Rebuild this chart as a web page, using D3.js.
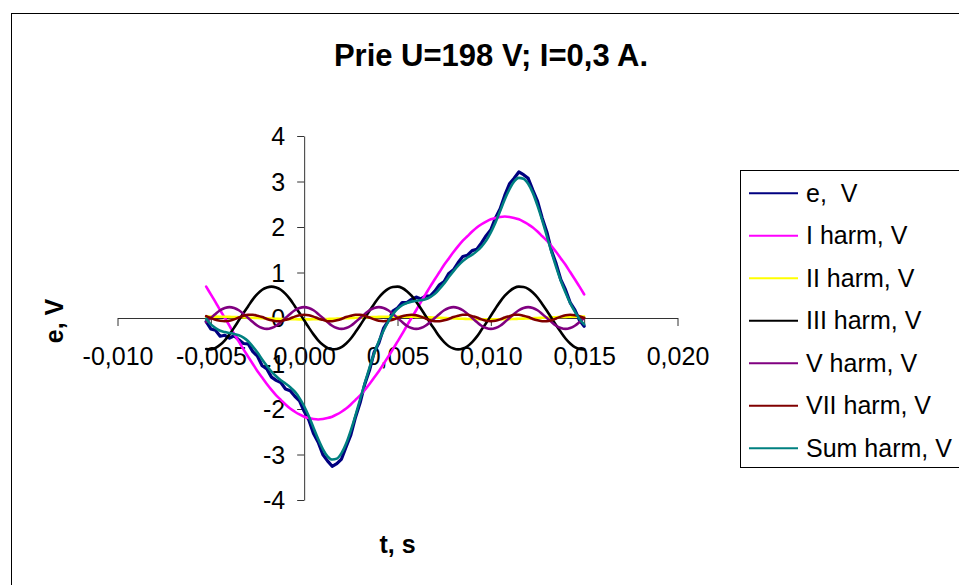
<!DOCTYPE html>
<html>
<head>
<meta charset="utf-8">
<script src="https://cdn.jsdelivr.net/npm/d3@7/dist/d3.min.js"></script>
<style>
  html, body { margin: 0; padding: 0; background: #fff; }
  svg { display: block; font-family: "Liberation Sans", Arial, sans-serif; }
</style>
</head>
<body>
<svg id="chart" width="959" height="585"></svg>
<script>
// Sample times, s
const time = [
  -0.00525,-0.0050,-0.00475,-0.0045,-0.00425,-0.0040,-0.00375,-0.0035,-0.00325,-0.0030,
  -0.00275,-0.0025,-0.00225,-0.0020,-0.00175,-0.0015,-0.00125,-0.0010,-0.00075,-0.0005,
  -0.00025,0,0.00025,0.0005,0.00075,0.0010,0.00125,0.0015,0.00175,0.0020,
  0.00225,0.0025,0.00275,0.0030,0.00325,0.0035,0.00375,0.0040,0.00425,0.0045,
  0.00475,0.0050,0.00525,0.0055,0.00575,0.0060,0.00625,0.0065,0.00675,0.0070,
  0.00725,0.0075,0.00775,0.0080,0.00825,0.0085,0.00875,0.0090,0.00925,0.0095,
  0.00975,0.0100,0.01025,0.0105,0.01075,0.0110,0.01125,0.0115,0.01175,0.0120,
  0.01225,0.0125,0.01275,0.0130,0.01325,0.0135,0.01375,0.0140,0.01425,0.0145,
  0.01475,0.0150
];

// Measured e.m.f., V
const eMeasured = [
  -0.08,-0.24,-0.27,-0.40,-0.38,-0.44,-0.39,-0.48,-0.56,-0.57,
  -0.74,-0.84,-1.05,-1.12,-1.30,-1.37,-1.42,-1.56,-1.60,-1.72,
  -1.82,-2.05,-2.24,-2.54,-2.73,-3.00,-3.14,-3.26,-3.20,-3.10,
  -2.83,-2.57,-2.18,-1.86,-1.45,-1.15,-0.75,-0.55,-0.23,-0.07,
  0.15,0.22,0.34,0.34,0.41,0.46,0.42,0.48,0.48,0.59,
  0.73,0.80,0.98,1.06,1.22,1.35,1.38,1.48,1.51,1.65,
  1.81,1.94,2.20,2.40,2.70,2.95,3.07,3.21,3.15,3.07,
  2.81,2.57,2.20,1.89,1.48,1.19,0.84,0.62,0.34,0.18,
  -0.05,-0.18
];

// Harmonic components, V
const harm1 = [
  0.69,0.52,0.35,0.17,0.00,-0.17,-0.35,-0.52,-0.69,-0.85,
  -1.01,-1.17,-1.31,-1.45,-1.58,-1.70,-1.80,-1.90,-1.99,-2.06,
  -2.12,-2.17,-2.20,-2.22,-2.23,-2.22,-2.20,-2.17,-2.12,-2.06,
  -1.99,-1.90,-1.80,-1.70,-1.58,-1.45,-1.31,-1.17,-1.01,-0.85,
  -0.69,-0.52,-0.35,-0.17,0.00,0.17,0.35,0.52,0.69,0.85,
  1.01,1.17,1.31,1.45,1.58,1.70,1.80,1.90,1.99,2.06,
  2.12,2.17,2.20,2.22,2.23,2.22,2.20,2.17,2.12,2.06,
  1.99,1.90,1.80,1.70,1.58,1.45,1.31,1.17,1.01,0.85,
  0.69,0.52
];
const harm2 = [
  0.030,0.030,0.030,0.029,0.027,0.024,0.021,0.018,0.014,0.009,
  0.005,0.000,-0.005,-0.009,-0.014,-0.018,-0.021,-0.024,-0.027,-0.029,
  -0.030,-0.030,-0.030,-0.029,-0.027,-0.024,-0.021,-0.018,-0.014,-0.009,
  -0.005,0.000,0.005,0.009,0.014,0.018,0.021,0.024,0.027,0.029,
  0.030,0.030,0.030,0.029,0.027,0.024,0.021,0.018,0.014,0.009,
  0.005,0.000,-0.005,-0.009,-0.014,-0.018,-0.021,-0.024,-0.027,-0.029,
  -0.030,-0.030,-0.030,-0.029,-0.027,-0.024,-0.021,-0.018,-0.014,-0.009,
  -0.005,0.000,0.005,0.009,0.014,0.018,0.021,0.024,0.027,0.029,
  0.030,0.030
];
const harm3 = [
  -0.68,-0.69,-0.66,-0.59,-0.49,-0.36,-0.21,-0.05,0.11,0.26,
  0.41,0.53,0.62,0.67,0.69,0.67,0.62,0.53,0.41,0.26,
  0.11,-0.05,-0.21,-0.36,-0.49,-0.59,-0.66,-0.69,-0.68,-0.64,
  -0.56,-0.45,-0.31,-0.16,0.00,0.16,0.31,0.45,0.56,0.64,
  0.68,0.69,0.66,0.59,0.49,0.36,0.21,0.05,-0.11,-0.26,
  -0.41,-0.53,-0.62,-0.67,-0.69,-0.67,-0.62,-0.53,-0.41,-0.26,
  -0.11,0.05,0.21,0.36,0.49,0.59,0.66,0.69,0.68,0.64,
  0.56,0.45,0.31,0.16,0.00,-0.16,-0.31,-0.45,-0.56,-0.64,
  -0.68,-0.69
];
const harm5 = [
  -0.09,0.00,0.09,0.17,0.22,0.24,0.22,0.17,0.09,0.00,-0.09,-0.17,-0.22,-0.24,-0.22,-0.17,
  -0.09,0.00,0.09,0.17,0.22,0.24,0.22,0.17,0.09,0.00,-0.09,-0.17,-0.22,-0.24,-0.22,-0.17,
  -0.09,0.00,0.09,0.17,0.22,0.24,0.22,0.17,0.09,0.00,-0.09,-0.17,-0.22,-0.24,-0.22,-0.17,
  -0.09,0.00,0.09,0.17,0.22,0.24,0.22,0.17,0.09,0.00,-0.09,-0.17,-0.22,-0.24,-0.22,-0.17,
  -0.09,0.00,0.09,0.17,0.22,0.24,0.22,0.17,0.09,0.00,-0.09,-0.17,-0.22,-0.24,-0.22,-0.17,
  -0.09,0.00
];
const harm7 = [
  0.04,0.00,-0.04,-0.06,-0.07,-0.06,-0.03,0.01,0.05,0.07,
  0.07,0.05,0.02,-0.02,-0.05,-0.07,-0.07,-0.04,-0.01,0.03,
  0.06,0.07,0.06,0.03,-0.01,-0.04,-0.07,-0.07,-0.05,-0.02,
  0.02,0.05,0.07,0.07,0.05,0.01,-0.03,-0.06,-0.07,-0.06,
  -0.04,0.00,0.04,0.06,0.07,0.06,0.03,-0.01,-0.05,-0.07,
  -0.07,-0.05,-0.02,0.02,0.05,0.07,0.07,0.04,0.01,-0.03,
  -0.06,-0.07,-0.06,-0.03,0.01,0.04,0.07,0.07,0.05,0.02,
  -0.02,-0.05,-0.07,-0.07,-0.05,-0.01,0.03,0.06,0.07,0.06,
  0.04,0.00
];
// Sum of the harmonics, V
const harmSum = [
  -0.02,-0.14,-0.22,-0.28,-0.31,-0.33,-0.35,-0.38,-0.43,-0.51,
  -0.63,-0.76,-0.91,-1.05,-1.18,-1.28,-1.37,-1.44,-1.52,-1.62,
  -1.76,-1.94,-2.16,-2.41,-2.66,-2.88,-3.04,-3.11,-3.09,-2.97,
  -2.76,-2.47,-2.14,-1.78,-1.43,-1.09,-0.78,-0.51,-0.28,-0.08,
  0.08,0.20,0.28,0.33,0.36,0.38,0.39,0.41,0.46,0.53,
  0.64,0.76,0.90,1.03,1.15,1.25,1.33,1.39,1.47,1.57,
  1.70,1.88,2.10,2.35,2.61,2.83,3.00,3.08,3.06,2.95,
  2.75,2.47,2.15,1.80,1.45,1.12,0.82,0.56,0.33,0.14,
  -0.02,-0.14
];

const seriesNames = ["e,  V", "I harm, V", "II harm, V", "III harm, V", "V harm, V", "VII harm, V", "Sum harm, V"];
const seriesColors = ["#000080", "#FF00FF", "#FFFF00", "#000000", "#800080", "#800000", "#008080"];
const seriesValues = [eMeasured, harm1, harm2, harm3, harm5, harm7, harmSum];

const xTicks = [-0.010, -0.005, 0.000, 0.005, 0.010, 0.015, 0.020];
const xTickLabels = ["-0,010", "-0,005", "0,000", "0,005", "0,010", "0,015", "0,020"];
const yTicks = [-4, -3, -2, -1, 0, 1, 2, 3, 4];
const yTickLabels = ["-4", "-3", "-2", "-1", "0", "1", "2", "3", "4"];

const titleText = "Prie U=198 V; I=0,3 A.";
const xTitle = "t, s";
const yTitle = "e, V";

const svg = d3.select("#chart");

// chart frame
svg.append("rect")
  .attr("x", 11.5).attr("y", 13.5)
  .attr("width", 980).attr("height", 600)
  .attr("fill", "#fff").attr("stroke", "#000").attr("stroke-width", 1);

const x = d3.scaleLinear().domain([-0.010, 0.020]).range([117.5, 677.5]);
const y = d3.scaleLinear().domain([-4, 4]).range([500, 136]);

// axes crossing at the origin
const xAxis = d3.axisBottom(x)
  .tickValues(xTicks)
  .tickFormat((d, i) => xTickLabels[i])
  .tickSize(8).tickSizeOuter(0);
const gx = svg.append("g").attr("transform", `translate(0,${y(0)})`).call(xAxis);
gx.selectAll("text").attr("y", 47).attr("dy", null)
  .attr("font-size", 25).attr("font-family", "Liberation Sans, Arial, sans-serif").attr("fill", "#000");

const yAxis = d3.axisLeft(y)
  .tickValues(yTicks)
  .tickFormat((d, i) => yTickLabels[i])
  .tickSize(7).tickSizeOuter(0);
const gy = svg.append("g").attr("transform", `translate(${x(0)},0)`).call(yAxis);
gy.selectAll("text").attr("x", -19).attr("dy", "0.35em")
  .attr("font-size", 25).attr("font-family", "Liberation Sans, Arial, sans-serif").attr("fill", "#000");

svg.selectAll(".domain, .tick line").attr("stroke", "#333").attr("stroke-width", 1);

// curves
const line = d3.line()
  .x((d, i) => x(time[i]))
  .y(d => y(d))
  .curve(d3.curveMonotoneX);
const rawLine = d3.line()
  .x((d, i) => x(time[i]))
  .y(d => y(d));

const plot = svg.append("g").attr("fill", "none").attr("stroke-linejoin", "round").attr("stroke-linecap", "round");
seriesValues.forEach((vals, s) => {
  plot.append("path")
    .attr("d", s === 0 ? rawLine(vals) : line(vals))
    .attr("stroke", seriesColors[s])
    .attr("stroke-width", s === 0 ? 3.2 : 2.6);
});

// titles
svg.append("text")
  .attr("x", 491).attr("y", 66)
  .attr("text-anchor", "middle")
  .attr("font-size", 31).attr("font-weight", "bold")
  .text(titleText);

svg.append("text")
  .attr("x", 397.5).attr("y", 553)
  .attr("text-anchor", "middle")
  .attr("font-size", 25).attr("font-weight", "bold")
  .text(xTitle);

svg.append("text")
  .attr("transform", "translate(63,321) rotate(-90)")
  .attr("text-anchor", "middle")
  .attr("font-size", 25).attr("font-weight", "bold")
  .text(yTitle);

// legend
const legend = svg.append("g");
legend.append("rect")
  .attr("x", 740.5).attr("y", 170.5)
  .attr("width", 240).attr("height", 297)
  .attr("fill", "#fff").attr("stroke", "#000").attr("stroke-width", 1);

seriesNames.forEach((name, i) => {
  const ly = 193.3 + i * 42.5;
  legend.append("line")
    .attr("x1", 749).attr("x2", 798)
    .attr("y1", ly).attr("y2", ly)
    .attr("stroke", seriesColors[i]).attr("stroke-width", 2);
  legend.append("text")
    .attr("x", 806).attr("y", ly + 8.5)
    .attr("font-size", 25)
    .style("white-space", "pre")
    .text(name);
});
</script>
</body>
</html>
